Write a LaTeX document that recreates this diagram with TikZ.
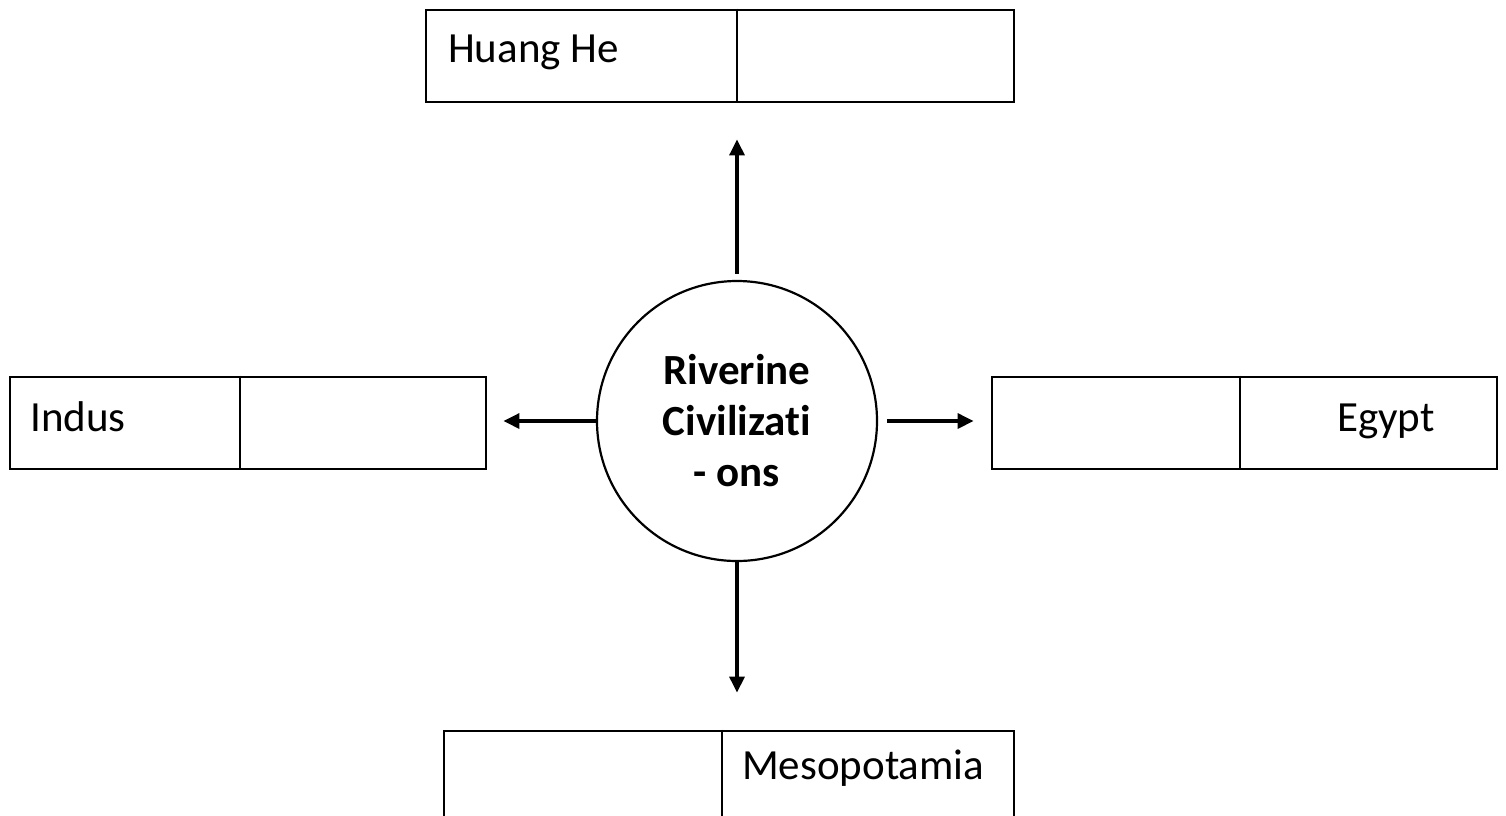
\documentclass[tikz,border=0pt]{standalone}
\usepackage{fontspec}
\setmainfont[Ligatures={NoCommon}]{Carlito}
\usetikzlibrary{arrows.meta}
\begin{document}
\begin{tikzpicture}[x=1pt,y=-1pt,
  cell/.style={draw, line width=2.8pt, rectangle, inner sep=0pt},
  divider/.style={line width=2.8pt},
  lbl/.style={font=\fontsize{43}{51}\selectfont, inner sep=0pt, anchor=base west},
  arr/.style={line width=3.2pt, -{Triangle[length=16pt,width=15pt]}},
  hub/.style={draw, circle, line width=2.2pt, minimum size=280pt, inner sep=0pt,
    align=center, font=\fontsize{43}{51}\selectfont\bfseries}]
\useasboundingbox (0,0) rectangle (1506,815);
\clip (0,0) rectangle (1506,815);
\fill[white] (0,0) rectangle (1506,815);

% boxes
\node[cell, minimum width=588pt, minimum height=92pt] (hh) at (720,56) {};
\draw[divider] (hh.north -| 737,0) -- (hh.south -| 737,0);
\node[lbl] (hhl) at (448,62) {Huang He};

\node[cell, minimum width=476pt, minimum height=92pt] (ind) at (248,423) {};
\draw[divider] (ind.north -| 240,0) -- (ind.south -| 240,0);
\node[lbl] (indl) at (30,431) {Indus};

\node[cell, minimum width=505pt, minimum height=92pt] (egy) at (1244.5,423) {};
\draw[divider] (egy.north -| 1240,0) -- (egy.south -| 1240,0);
\node[lbl] (egyl) at (1337,431) {Egypt};

\node[cell, minimum width=570pt, minimum height=100pt] (mes) at (729,781) {};
\draw[divider] (mes.north -| 722,0) -- (mes.south -| 722,0);
\node[lbl] (mesl) at (742,779) {Mesopotamia};

% hub
\node[hub] (c) at (737,421) {Riverine\\Civilizati\\- ons};

% arrows
\draw[arr, shorten <=6pt, shorten >=36pt] (c.north) -- (c.north |- hh.south);
\draw[arr, shorten >=16pt] (c.west) -- (c.west -| ind.east);
\draw[arr, shorten <=9pt, shorten >=17pt] (c.east) -- (c.east -| egy.west);
\draw[arr, shorten >=37pt] (c.south) -- (c.south |- mes.north);
\end{tikzpicture}
\end{document}
